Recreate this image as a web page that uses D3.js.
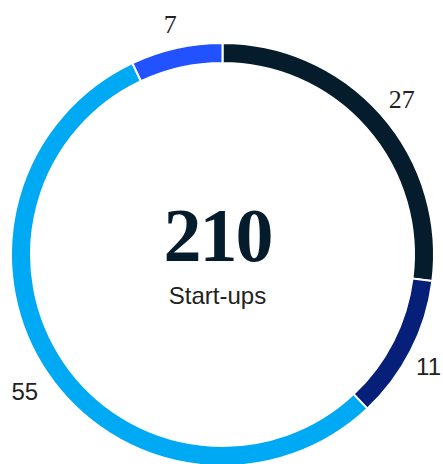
<!DOCTYPE html>
<html><head><meta charset="utf-8">
<script src="https://cdn.jsdelivr.net/npm/d3@7/dist/d3.min.js"></script>
<style>html,body{margin:0;padding:0;background:#fff;overflow:hidden}</style>
</head><body>
<svg id="chart" width="443" height="464"></svg>
<script>
const categories = ["A", "B", "C", "D"];
const values = [27, 11, 55, 7];
const labels = ["27", "11", "55", "7"];
const totalLabel = "210";
const subLabel = "Start-ups";

const colors = ["#051c2c", "#061f79", "#00a9f4", "#2251ff"];
const labelFonts = ["'Liberation Serif', serif", "'Liberation Sans', Arial, sans-serif", "'Liberation Sans', Arial, sans-serif", "'Liberation Serif', serif"];
const labelSizes = [26, 24, 24, 26];

const W = 443;
const svg = d3.select("#chart");
const cx = 222.5, cy = 254.5, rOuter = 211.5, rInner = 191.5, rLabel = 239;
const g = svg.append("g").attr("transform", `translate(${cx},${cy})`);

const pie = d3.pie().sort(null).value(d => d)(values);
const arc = d3.arc().innerRadius(rInner).outerRadius(rOuter);
const labelArc = d3.arc().innerRadius(rLabel).outerRadius(rLabel);

g.selectAll("path.seg").data(pie).join("path")
  .attr("class", "seg")
  .attr("d", arc)
  .attr("fill", (d, i) => colors[i])
  .attr("stroke", "#fff").attr("stroke-width", 2);

g.selectAll("text.lbl").data(pie).join("text")
  .attr("class", "lbl")
  .attr("text-anchor", "middle")
  .attr("dominant-baseline", "central")
  .attr("font-family", (d, i) => labelFonts[i])
  .attr("font-size", (d, i) => labelSizes[i])
  .attr("fill", "#222")
  .text((d, i) => labels[i])
  .each(function(d) {
    const [x, y] = labelArc.centroid(d);
    const half = this.getComputedTextLength() / 2;
    const maxX = W - cx - half - 2;
    const minX = -cx + half + 2;
    d3.select(this).attr("transform", `translate(${Math.max(minX, Math.min(maxX, x))},${y + 3})`);
  });

g.append("text")
  .attr("x", -5).attr("y", 6)
  .attr("text-anchor", "middle")
  .attr("font-family", "'Liberation Serif', serif")
  .attr("font-weight", "bold")
  .attr("font-size", 76)
  .attr("letter-spacing", -2)
  .attr("fill", "#051c2c")
  .text(totalLabel);

g.append("text")
  .attr("x", -5).attr("y", 49)
  .attr("text-anchor", "middle")
  .attr("font-family", "'Liberation Sans', Arial, sans-serif")
  .attr("font-size", 24)
  .attr("fill", "#222")
  .text(subLabel);
</script>
</body></html>
